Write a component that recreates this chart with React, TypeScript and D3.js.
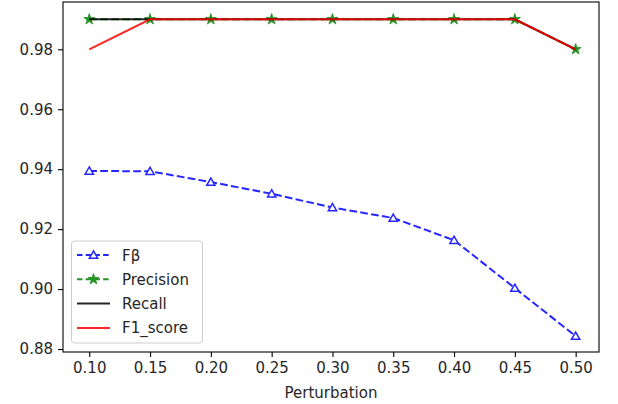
import * as d3 from 'd3';
import { useEffect, useRef } from 'react';

const perturbation = [0.1, 0.15, 0.2, 0.25, 0.3, 0.35, 0.4, 0.45, 0.5];
const fbeta = [0.9394, 0.9393, 0.9357, 0.9318, 0.9272, 0.9237, 0.9163, 0.9003, 0.8843];
const precision = [0.99, 0.99, 0.99, 0.99, 0.99, 0.99, 0.99, 0.99, 0.98];
const recall = [0.99, 0.99, 0.99, 0.99, 0.99, 0.99, 0.99, 0.99, 0.98];
const f1Score = [0.98, 0.99, 0.99, 0.99, 0.99, 0.99, 0.99, 0.99, 0.98];
const xTicks = [0.1, 0.15, 0.2, 0.25, 0.3, 0.35, 0.4, 0.45, 0.5];
const yTicks = [0.88, 0.9, 0.92, 0.94, 0.96, 0.98];

const series = [
  { name: 'Fβ', values: fbeta, color: '#0000ff', dash: '7.7,3.3', marker: 'triangle' },
  { name: 'Precision', values: precision, color: '#008000', dash: '7.7,3.3', marker: 'star' },
  { name: 'Recall', values: recall, color: '#000000', dash: null, marker: null },
  { name: 'F1_score', values: f1Score, color: '#ff0000', dash: null, marker: null },
];

const font = 'DejaVu Sans, sans-serif';
const fontSize = 15;

function LineChart() {
  const ref = useRef(null);

  useEffect(() => {
    const width = 618, height = 404;
    const left = 63, right = 599, top = 2, bottom = 352;

    const x = d3.scaleLinear().domain([0.0784, 0.5192]).range([left, right]);
    const y = d3.scaleLinear().domain([0.879, 0.99578]).range([bottom, top]);

    const svg = d3.select(ref.current)
      .html('')
      .append('svg')
      .attr('width', width)
      .attr('height', height)
      .style('position', 'absolute')
      .style('left', 0)
      .style('top', 0)
      .style('font-family', font);

    svg.append('rect').attr('width', width).attr('height', height).attr('fill', '#fff');

    // lines
    const line = d3.line()
      .x(function (d) { return x(d[0]); })
      .y(function (d) { return y(d[1]); });

    const triangle = d3.symbol().type(d3.symbolTriangle).size(30);
    const star = d3.symbol().type(d3.symbolStar).size(38);

    series.forEach(function (s) {
      const pts = perturbation.map(function (p, i) { return [p, s.values[i]]; });
      const g = svg.append('g').attr('opacity', 0.85);
      g.append('path')
        .attr('d', line(pts))
        .attr('fill', 'none')
        .attr('stroke', s.color)
        .attr('stroke-width', 2)
        .attr('stroke-dasharray', s.dash);
      if (s.marker) {
        g.selectAll('.m')
          .data(pts)
          .enter().append('path')
          .attr('transform', function (d) { return 'translate(' + x(d[0]) + ',' + (y(d[1]) + (s.marker === 'triangle' ? 0.8 : 0)) + ')'; })
          .attr('d', s.marker === 'triangle' ? triangle() : star())
          .attr('fill', s.marker === 'triangle' ? '#fff' : s.color)
          .attr('stroke', s.color)
          .attr('stroke-width', s.marker === 'triangle' ? 1.5 : 0.8);
      }
    });

    // axes
    const xAxis = svg.append('g').attr('transform', 'translate(0,' + bottom + ')')
      .call(d3.axisBottom(x).tickValues(xTicks).tickFormat(d3.format('.2f')).tickSize(5).tickPadding(5));
    const yAxis = svg.append('g').attr('transform', 'translate(' + left + ',0)')
      .call(d3.axisLeft(y).tickValues(yTicks).tickFormat(d3.format('.2f')).tickSize(5).tickPadding(5));
    [xAxis, yAxis].forEach(function (a) {
      a.select('.domain').remove();
      a.selectAll('line').attr('stroke', '#000').attr('stroke-width', 1.1);
      a.selectAll('text').attr('font-size', fontSize).attr('font-family', font).attr('fill', '#262626');
    });

    // frame
    svg.append('rect')
      .attr('x', left).attr('y', top)
      .attr('width', right - left).attr('height', bottom - top)
      .attr('fill', 'none').attr('stroke', '#000').attr('stroke-width', 1.1);

    svg.append('text')
      .attr('x', (left + right) / 2)
      .attr('y', 398)
      .attr('text-anchor', 'middle')
      .attr('font-size', fontSize)
      .attr('fill', '#262626')
      .text('Perturbation');

    // legend
    const legend = svg.append('g');
    legend.append('rect')
      .attr('x', 71.5).attr('y', 241)
      .attr('width', 131).attr('height', 102)
      .attr('rx', 3)
      .attr('fill', '#fff').attr('fill-opacity', 0.8)
      .attr('stroke', '#cccccc').attr('stroke-width', 1);

    series.forEach(function (s, i) {
      const cy = 255 + i * 24.3;
      const item = legend.append('g').attr('opacity', 0.85);
      item.append('line')
        .attr('x1', 77).attr('x2', 110)
        .attr('y1', cy).attr('y2', cy)
        .attr('stroke', s.color)
        .attr('stroke-width', 2)
        .attr('stroke-dasharray', s.dash ? '5.5,3.2' : null);
      if (s.marker) {
        item.append('path')
          .attr('transform', 'translate(93.5,' + (cy + (s.marker === 'triangle' ? 0.8 : 0)) + ')')
          .attr('d', s.marker === 'triangle' ? triangle() : star())
          .attr('fill', s.marker === 'triangle' ? '#fff' : s.color)
          .attr('stroke', s.color)
          .attr('stroke-width', s.marker === 'triangle' ? 1.5 : 0.8);
      }
      legend.append('text')
        .attr('x', 122)
        .attr('y', cy + 5.5)
        .attr('font-size', fontSize)
        .attr('fill', '#262626')
        .text(s.name);
    });
  }, []);

  return <div ref={ref}></div>;
}

export default function App() {
  return <LineChart />;
}
